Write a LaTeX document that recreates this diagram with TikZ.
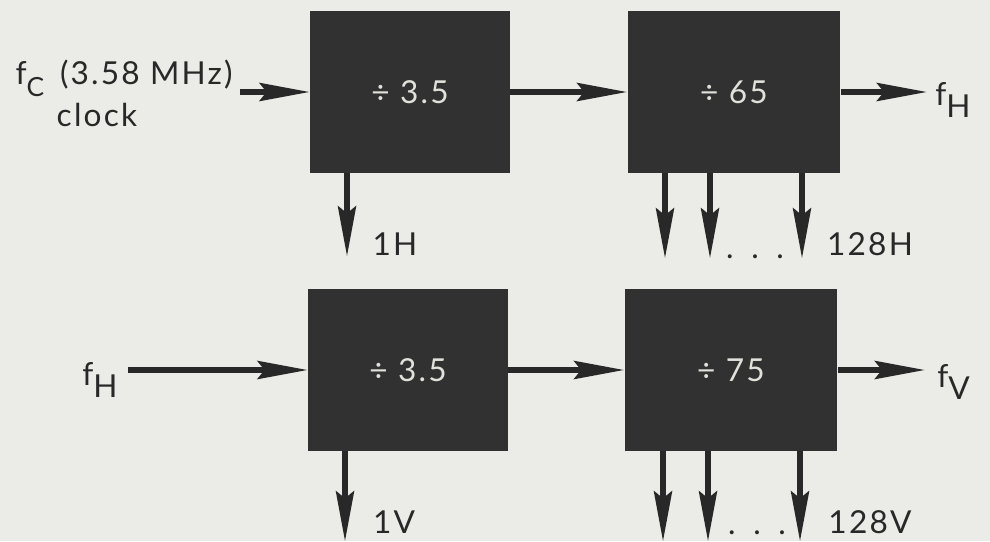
\documentclass[tikz,border=0pt]{standalone}
\usepackage{fontspec}
\setmainfont{Lato}[LetterSpace=7]
\usetikzlibrary{arrows.meta,positioning}

\definecolor{paper}{RGB}{235,235,231}
\definecolor{ink}{RGB}{40,40,40}
\definecolor{boxfill}{RGB}{50,49,49}
\definecolor{boxtext}{RGB}{225,225,219}
% lowered index letter, as in f_H
\newcommand{\idx}[1]{\raisebox{-0.38em}{#1}}

\begin{document}
\begin{tikzpicture}[x=0.02cm,y=-0.02cm,
		every node/.append style={font=\fontsize{18}{21}\selectfont},
		divider/.style={rectangle,fill=boxfill,text=boxtext,minimum width=4cm,minimum height=3.24cm,inner sep=0pt},
		widediv/.style={divider,minimum width=4.26cm},
		wire/.style={draw=ink,line width=3.2pt,-{Stealth[length=1cm,width=0.36cm,inset=0.14cm]}},
		lbl/.style={text=ink,inner sep=0pt}]
		\fill[paper] (0,0) rectangle (990,541);
		\useasboundingbox (0,0) rectangle (990,541);
		%
		% horizontal counter
		\node[divider] (div1) at (410,92) {÷ 3.5};
		\node[widediv] (div2) at (734,92) {÷ 65};
		\node[lbl,anchor=base east] (fc) at (233,84) {f\idx{\fontsize{15}{17}\selectfont C}\hspace{9pt}(3.58 MHz)};
		\node[lbl,anchor=base] (clk) at (97,126) {clock};
		\coordinate (fcin) at (240,92);
		\coordinate (hout) at (927,92);
		\draw[wire] (fcin) -- (div1.west);
		\draw[wire] (div1.east) -- (div2.west);
		\draw[wire] (div2.east) -- (hout);
		\node[lbl,anchor=base west] (fh) at (935,105) {f\idx{H}};
		%
		\draw[wire] (div1.south) ++(-63,0) -- ++(0,83);
		\foreach \dx in {-69,-24,68}{
			\draw[wire] (div2.south) ++(\dx,0) -- ++(0,85);
		}
		\node[lbl,anchor=base] (h1) at (395,255) {1H};
		\node[lbl,anchor=base] (hdots) at (755,258) {.\hspace{10pt}.\hspace{10pt}.};
		\node[lbl,anchor=base] (h128) at (870,255) {128H};
		%
		% vertical counter
		\node[divider] (div3) at (408,370) {÷ 3.5};
		\node[widediv] (div4) at (731,370) {÷ 75};
		\node[lbl,anchor=base west] (fhin) at (82,385) {f\idx{H}};
		\coordinate (hin) at (128,370);
		\coordinate (vout) at (925,370);
		\draw[wire] (hin) -- (div3.west);
		\draw[wire] (div3.east) -- (div4.west);
		\draw[wire] (div4.east) -- (vout);
		\node[lbl,anchor=base west] (fv) at (937,387) {f\idx{V}};
		%
		\draw[wire] (div3.south) ++(-63,0) -- ++(0,90);
		\foreach \dx in {-68,-23,69}{
			\draw[wire] (div4.south) ++(\dx,0) -- ++(0,90);
		}
		\node[lbl,anchor=base] (v1) at (394,533) {1V};
		\node[lbl,anchor=base] (vdots) at (757,534) {.\hspace{10pt}.\hspace{10pt}.};
		\node[lbl,anchor=base] (v128) at (870,533) {128V};
	\end{tikzpicture}
\end{document}
